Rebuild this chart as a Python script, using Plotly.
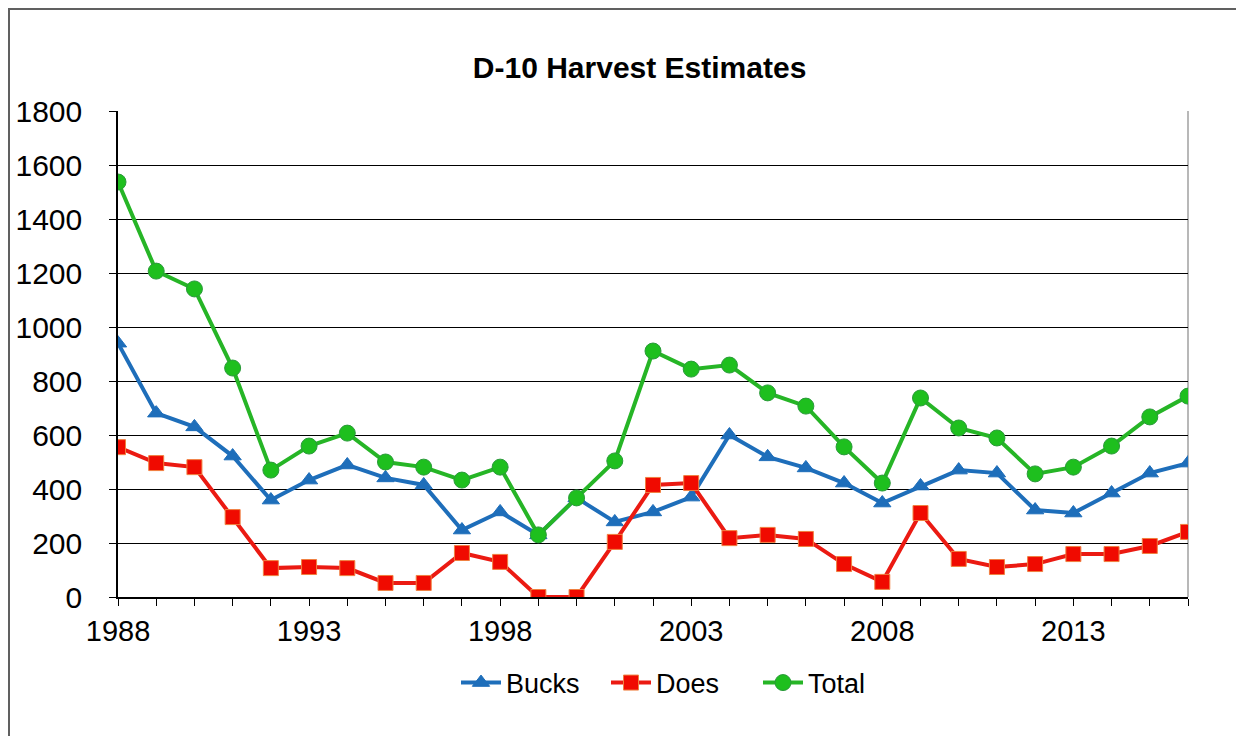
import plotly.graph_objects as go

years = list(range(1988, 2017))
bucks = [940, 681, 630, 522, 359, 433, 489, 441, 415, 248, 315, 230, 367, 278, 315, 370,
         600, 519, 478, 422, 348, 411, 470, 459, 322, 311, 385, 459, 496]
does = [555, 496, 481, 296, 107, 111, 107, 52, 52, 163, 130, 0, 0, 204, 415, 422,
        218, 230, 215, 122, 56, 311, 141, 111, 122, 159, 159, 189, 241]
total = [1537, 1207, 1141, 848, 470, 559, 607, 500, 481, 433, 481, 230, 367, 504, 911, 844,
         859, 756, 707, 556, 422, 737, 626, 589, 456, 481, 559, 667, 744]
x_tick_vals = [1988, 1993, 1998, 2003, 2008, 2013]
y_tick_vals = [0, 200, 400, 600, 800, 1000, 1200, 1400, 1600, 1800]

FONT = "Liberation Sans, Arial, sans-serif"

# page body adds an 8px offset, so the figure is laid out 8px smaller/shifted
W, H = 1236, 728
L, R, T, B = 110, 56, 103, 139
PW, PH = W - L - R, H - T - B

fig = go.Figure()
fig.add_trace(go.Scatter(
    x=years, y=bucks, name="Bucks", mode="lines+markers", legend="legend",
    line=dict(color="#1E6EBA", width=4),
    marker=dict(symbol="triangle-up", size=15, color="#1E6EBA",
                line=dict(color="#1E6EBA", width=1)),
))
fig.add_trace(go.Scatter(
    x=years, y=does, name="Does", mode="lines+markers", legend="legend2",
    line=dict(color="#EB1A12", width=4),
    marker=dict(symbol="square", size=15, color="#F00A00",
                line=dict(color="#F08040", width=1)),
))
fig.add_trace(go.Scatter(
    x=years, y=total, name="Total", mode="lines+markers", legend="legend3",
    line=dict(color="#26B526", width=4),
    marker=dict(symbol="circle", size=16, color="#1EBF1E",
                line=dict(color="#2A9A3A", width=1)),
))


def leg(px_left):
    return dict(orientation="h", x=(px_left - 8 - L) / PW, xanchor="left",
                y=-0.177, yanchor="middle", bgcolor="rgba(0,0,0,0)",
                font=dict(size=27, family=FONT), itemwidth=40)


fig.update_layout(
    width=W, height=H,
    paper_bgcolor="white", plot_bgcolor="white",
    margin=dict(l=L, r=R, t=T, b=B, autoexpand=False),
    font=dict(family=FONT, color="black"),
    title=dict(text="<b>D-10 Harvest Estimates</b>", x=0.511, xanchor="center",
               y=0.9176, yanchor="middle", font=dict(size=30, family=FONT, color="black")),
    showlegend=True,
    legend=leg(460 - 4),
    legend2=leg(610 - 4),
    legend3=leg(762 - 4),
    xaxis=dict(range=[1988, 2016], tickmode="array", tickvals=x_tick_vals,
               ticktext=[str(v) for v in x_tick_vals], automargin=False,
               showgrid=False, zeroline=False, showline=True, linecolor="black", linewidth=1.5,
               ticks="outside", ticklen=7, tickcolor="black",
               minor=dict(dtick=1, ticks="outside", ticklen=7, tickcolor="black", showgrid=False),
               tickfont=dict(size=29, family=FONT)),
    yaxis=dict(range=[0, 1800], tickmode="array", tickvals=y_tick_vals, automargin=False,
               showgrid=True, gridcolor="black", gridwidth=1.2, zeroline=False,
               showline=True, linecolor="black", linewidth=1.5,
               ticks="outside", ticklen=7, tickcolor="black", ticklabelstandoff=21,
               tickfont=dict(size=30, family=FONT)),
    shapes=[
        dict(type="line", xref="paper", yref="paper", x0=1, x1=1, y0=0, y1=1,
             line=dict(color="#A0A0A0", width=1.5), layer="below"),
        dict(type="rect", xref="paper", yref="paper",
             x0=(1 - L) / PW, x1=(1231 - L) / PW,
             y0=(T + PH - 740) / PH, y1=(T + PH - 1) / PH,
             line=dict(color="#606060", width=2), layer="below"),
    ],
)

fig.write_html("out.html")
